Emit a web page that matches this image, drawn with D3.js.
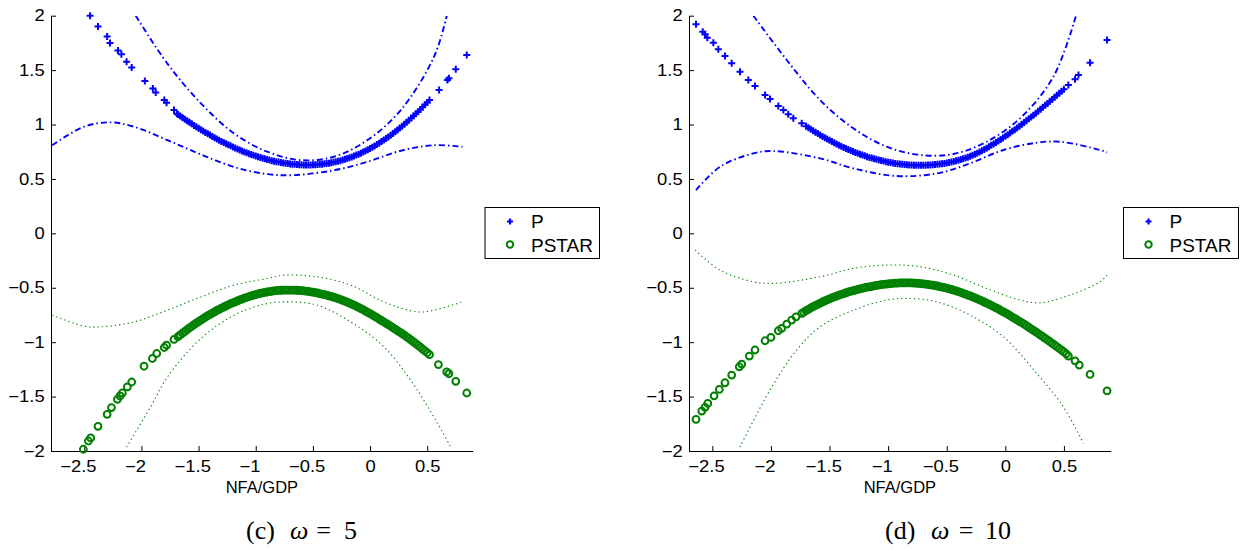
<!DOCTYPE html>
<html><head><meta charset="utf-8">
<script src="https://cdn.jsdelivr.net/npm/d3@7"></script>
<style>
body{margin:0;background:#fff;}
svg{display:block;}
</style></head>
<body><svg id="chart" width="1248" height="550"></svg>
<script>
// ---------- tick labels ----------
const xTicks = [-2.5, -2, -1.5, -1, -0.5, 0, 0.5];
const yTicks = [-2, -1.5, -1, -0.5, 0, 0.5, 1, 1.5, 2];
const xLabel = "NFA/GDP";
const legendNames = ["P", "PSTAR"];

// ---------- panel (c) omega = 5 ----------
const cP = [[-2.449,2.0],[-2.38,1.90],[-2.30,1.81],[-2.275,1.75],[-2.205,1.68],[-2.175,1.645],[-2.13,1.577],[-2.085,1.525],[-1.97,1.40],[-1.90,1.33],[-1.875,1.295],[-1.80,1.225],[-1.78,1.20],[-1.715,1.133],[-1.69,1.10],
[-1.68,1.093],[-1.66,1.078],[-1.64,1.063],[-1.62,1.048],[-1.60,1.034],[-1.58,1.020],[-1.56,1.006],[-1.54,0.992],[-1.52,0.979],[-1.50,0.966],[-1.48,0.953],[-1.46,0.940],[-1.44,0.927],[-1.42,0.915],[-1.40,0.903],[-1.38,0.891],[-1.36,0.879],[-1.34,0.867],[-1.32,0.856],[-1.30,0.845],[-1.28,0.834],[-1.26,0.824],[-1.24,0.814],[-1.22,0.804],[-1.20,0.794],[-1.18,0.784],[-1.16,0.775],[-1.14,0.766],[-1.12,0.757],[-1.10,0.748],[-1.08,0.740],[-1.06,0.732],[-1.04,0.725],[-1.02,0.717],[-1.00,0.710],[-0.98,0.703],[-0.96,0.697],[-0.94,0.691],[-0.92,0.685],[-0.90,0.679],[-0.88,0.673],[-0.86,0.668],[-0.84,0.663],[-0.82,0.659],[-0.80,0.655],[-0.78,0.651],[-0.76,0.647],[-0.74,0.644],[-0.72,0.641],[-0.70,0.638],[-0.68,0.636],[-0.66,0.634],[-0.64,0.632],[-0.62,0.631],[-0.60,0.630],[-0.58,0.629],[-0.56,0.629],[-0.54,0.629],[-0.52,0.629],[-0.50,0.630],[-0.48,0.631],[-0.46,0.632],[-0.44,0.634],[-0.42,0.636],[-0.40,0.639],[-0.38,0.642],[-0.36,0.645],[-0.34,0.649],[-0.32,0.653],[-0.30,0.658],[-0.28,0.663],[-0.26,0.668],[-0.24,0.674],[-0.22,0.680],[-0.20,0.687],[-0.18,0.694],[-0.16,0.702],[-0.14,0.710],[-0.12,0.719],[-0.10,0.728],[-0.08,0.737],[-0.06,0.747],[-0.04,0.757],[-0.02,0.768],[0.00,0.779],[0.02,0.791],[0.04,0.803],[0.06,0.816],[0.08,0.829],[0.10,0.843],[0.12,0.857],[0.14,0.871],[0.16,0.886],[0.18,0.901],[0.20,0.917],[0.22,0.933],[0.24,0.950],[0.26,0.967],[0.28,0.985],[0.30,1.003],[0.32,1.021],[0.34,1.040],[0.36,1.059],[0.38,1.078],[0.40,1.098],[0.42,1.118],[0.44,1.139],[0.46,1.160],[0.48,1.181],[0.50,1.203],[0.52,1.225],
[0.604,1.317],[0.677,1.41],[0.69,1.425],[0.75,1.507],[0.846,1.638]];
const cPSTAR = [[-2.508,-1.984],[-2.464,-1.908],[-2.444,-1.88],[-2.38,-1.773],[-2.30,-1.663],[-2.262,-1.601],[-2.21,-1.525],[-2.187,-1.494],[-2.167,-1.467],[-2.123,-1.411],[-2.085,-1.366],[-1.977,-1.221],[-1.904,-1.15],[-1.866,-1.104],[-1.80,-1.049],[-1.78,-1.028],[-1.715,-0.975],
[-1.68,-0.950],[-1.66,-0.933],[-1.64,-0.917],[-1.62,-0.901],[-1.60,-0.885],[-1.58,-0.869],[-1.56,-0.854],[-1.54,-0.839],[-1.52,-0.825],[-1.50,-0.811],[-1.48,-0.797],[-1.46,-0.783],[-1.44,-0.770],[-1.42,-0.757],[-1.40,-0.745],[-1.38,-0.733],[-1.36,-0.721],[-1.34,-0.709],[-1.32,-0.698],[-1.30,-0.687],[-1.28,-0.677],[-1.26,-0.667],[-1.24,-0.657],[-1.22,-0.647],[-1.20,-0.638],[-1.18,-0.629],[-1.16,-0.620],[-1.14,-0.612],[-1.12,-0.604],[-1.10,-0.596],[-1.08,-0.589],[-1.06,-0.582],[-1.04,-0.575],[-1.02,-0.569],[-1.00,-0.563],[-0.98,-0.557],[-0.96,-0.552],[-0.94,-0.547],[-0.92,-0.543],[-0.90,-0.539],[-0.88,-0.535],[-0.86,-0.532],[-0.84,-0.529],[-0.82,-0.526],[-0.80,-0.524],[-0.78,-0.523],[-0.76,-0.522],[-0.74,-0.521],[-0.72,-0.521],[-0.70,-0.521],[-0.68,-0.521],[-0.66,-0.522],[-0.64,-0.523],[-0.62,-0.524],[-0.60,-0.526],[-0.58,-0.528],[-0.56,-0.531],[-0.54,-0.534],[-0.52,-0.537],[-0.50,-0.540],[-0.48,-0.544],[-0.46,-0.548],[-0.44,-0.553],[-0.42,-0.558],[-0.40,-0.563],[-0.38,-0.568],[-0.36,-0.574],[-0.34,-0.580],[-0.32,-0.586],[-0.30,-0.593],[-0.28,-0.600],[-0.26,-0.607],[-0.24,-0.615],[-0.22,-0.623],[-0.20,-0.632],[-0.18,-0.641],[-0.16,-0.650],[-0.14,-0.660],[-0.12,-0.670],[-0.10,-0.680],[-0.08,-0.691],[-0.06,-0.702],[-0.04,-0.714],[-0.02,-0.726],[0.00,-0.738],[0.02,-0.750],[0.04,-0.763],[0.06,-0.775],[0.08,-0.788],[0.10,-0.801],[0.12,-0.814],[0.14,-0.827],[0.16,-0.840],[0.18,-0.853],[0.20,-0.867],[0.22,-0.880],[0.24,-0.894],[0.26,-0.908],[0.28,-0.922],[0.30,-0.936],[0.32,-0.951],[0.34,-0.966],[0.36,-0.981],[0.38,-0.997],[0.40,-1.013],[0.42,-1.029],[0.44,-1.046],[0.46,-1.063],[0.48,-1.080],[0.50,-1.097],[0.52,-1.115],
[0.598,-1.206],[0.671,-1.273],[0.69,-1.29],[0.75,-1.36],[0.846,-1.467]];
const cPUpper = [[-2.05,2.0],[-1.773,1.56],[-1.48,1.195],[-1.19,0.918],[-0.90,0.75],[-0.606,0.673],[-0.315,0.704],[-0.023,0.857],[0.269,1.133],[0.56,1.623],[0.671,2.0]];
const cPLower = [[-2.78,0.81],[-2.502,0.98],[-2.27,1.02],[-2.065,0.98],[-1.773,0.857],[-1.48,0.725],[-1.19,0.61],[-0.90,0.544],[-0.665,0.535],[-0.315,0.58],[-0.023,0.657],[0.269,0.759],[0.56,0.81],[0.808,0.795]];
const cSUpper = [[-2.78,-0.752],[-2.50,-0.853],[-2.357,-0.859],[-2.065,-0.814],[-1.773,-0.706],[-1.48,-0.584],[-1.19,-0.476],[-0.90,-0.415],[-0.752,-0.385],[-0.46,-0.40],[-0.169,-0.476],[0.122,-0.63],[0.415,-0.722],[0.56,-0.706],[0.808,-0.63]];
const cSLower = [[-2.13,-1.963],[-1.92,-1.595],[-1.773,-1.32],[-1.48,-0.967],[-1.19,-0.752],[-0.90,-0.645],[-0.69,-0.63],[-0.46,-0.66],[-0.169,-0.814],[0.122,-1.044],[0.415,-1.442],[0.706,-1.963]];

// ---------- panel (d) omega = 10 ----------
const dP = [[-2.639,1.921],[-2.582,1.853],[-2.562,1.829],[-2.543,1.798],[-2.491,1.752],[-2.449,1.691],[-2.392,1.63],[-2.335,1.562],[-2.264,1.485],[-2.193,1.409],[-2.136,1.354],[-2.05,1.271],[-2.008,1.234],[-1.937,1.17],[-1.894,1.133],[-1.852,1.094],[-1.809,1.057],[-1.737,1.011],
[-1.70,0.985],[-1.68,0.971],[-1.66,0.957],[-1.64,0.943],[-1.62,0.930],[-1.60,0.917],[-1.58,0.904],[-1.56,0.891],[-1.54,0.879],[-1.52,0.867],[-1.50,0.855],[-1.48,0.843],[-1.46,0.832],[-1.44,0.821],[-1.42,0.810],[-1.40,0.800],[-1.38,0.790],[-1.36,0.780],[-1.34,0.771],[-1.32,0.762],[-1.30,0.753],[-1.28,0.744],[-1.26,0.736],[-1.24,0.728],[-1.22,0.720],[-1.20,0.712],[-1.18,0.705],[-1.16,0.698],[-1.14,0.692],[-1.12,0.686],[-1.10,0.680],[-1.08,0.674],[-1.06,0.669],[-1.04,0.664],[-1.02,0.659],[-1.00,0.654],[-0.98,0.650],[-0.96,0.646],[-0.94,0.643],[-0.92,0.640],[-0.90,0.637],[-0.88,0.634],[-0.86,0.632],[-0.84,0.630],[-0.82,0.628],[-0.80,0.627],[-0.78,0.626],[-0.76,0.625],[-0.74,0.625],[-0.72,0.625],[-0.70,0.625],[-0.68,0.626],[-0.66,0.627],[-0.64,0.628],[-0.62,0.630],[-0.60,0.632],[-0.58,0.634],[-0.56,0.637],[-0.54,0.640],[-0.52,0.643],[-0.50,0.647],[-0.48,0.651],[-0.46,0.656],[-0.44,0.661],[-0.42,0.666],[-0.40,0.672],[-0.38,0.678],[-0.36,0.685],[-0.34,0.692],[-0.32,0.700],[-0.30,0.709],[-0.28,0.718],[-0.26,0.727],[-0.24,0.737],[-0.22,0.748],[-0.20,0.759],[-0.18,0.771],[-0.16,0.783],[-0.14,0.796],[-0.12,0.809],[-0.10,0.822],[-0.08,0.835],[-0.06,0.849],[-0.04,0.863],[-0.02,0.877],[0.00,0.892],[0.02,0.907],[0.04,0.922],[0.06,0.938],[0.08,0.953],[0.10,0.969],[0.12,0.985],[0.14,1.002],[0.16,1.018],[0.18,1.035],[0.20,1.052],[0.22,1.069],[0.24,1.086],[0.26,1.104],[0.28,1.122],[0.30,1.140],[0.32,1.158],[0.34,1.176],[0.36,1.194],[0.38,1.213],[0.40,1.231],[0.42,1.250],[0.44,1.268],[0.46,1.287],[0.48,1.306],[0.50,1.325],
[0.538,1.363],[0.595,1.415],[0.624,1.455],[0.723,1.568],[0.868,1.777]];
const dPSTAR = [[-2.639,-1.71],[-2.59,-1.633],[-2.562,-1.599],[-2.539,-1.563],[-2.485,-1.493],[-2.44,-1.434],[-2.392,-1.373],[-2.335,-1.302],[-2.27,-1.226],[-2.249,-1.201],[-2.184,-1.128],[-2.136,-1.072],[-2.05,-0.987],[-2.0,-0.956],[-1.937,-0.895],[-1.909,-0.874],[-1.865,-0.834],[-1.823,-0.797],[-1.786,-0.767],[-1.737,-0.735],
[-1.72,-0.724],[-1.70,-0.711],[-1.68,-0.698],[-1.66,-0.686],[-1.64,-0.674],[-1.62,-0.663],[-1.60,-0.652],[-1.58,-0.641],[-1.56,-0.631],[-1.54,-0.621],[-1.52,-0.611],[-1.50,-0.602],[-1.48,-0.593],[-1.46,-0.584],[-1.44,-0.576],[-1.42,-0.568],[-1.40,-0.560],[-1.38,-0.553],[-1.36,-0.546],[-1.34,-0.539],[-1.32,-0.533],[-1.30,-0.527],[-1.28,-0.521],[-1.26,-0.515],[-1.24,-0.510],[-1.22,-0.505],[-1.20,-0.500],[-1.18,-0.495],[-1.16,-0.491],[-1.14,-0.487],[-1.12,-0.483],[-1.10,-0.479],[-1.08,-0.476],[-1.06,-0.472],[-1.04,-0.469],[-1.02,-0.466],[-1.00,-0.464],[-0.98,-0.462],[-0.96,-0.460],[-0.94,-0.458],[-0.92,-0.457],[-0.90,-0.456],[-0.88,-0.455],[-0.86,-0.455],[-0.84,-0.455],[-0.82,-0.455],[-0.80,-0.456],[-0.78,-0.457],[-0.76,-0.458],[-0.74,-0.460],[-0.72,-0.462],[-0.70,-0.464],[-0.68,-0.467],[-0.66,-0.470],[-0.64,-0.473],[-0.62,-0.476],[-0.60,-0.480],[-0.58,-0.484],[-0.56,-0.489],[-0.54,-0.494],[-0.52,-0.499],[-0.50,-0.504],[-0.48,-0.510],[-0.46,-0.516],[-0.44,-0.522],[-0.42,-0.529],[-0.40,-0.536],[-0.38,-0.543],[-0.36,-0.551],[-0.34,-0.559],[-0.32,-0.567],[-0.30,-0.575],[-0.28,-0.584],[-0.26,-0.593],[-0.24,-0.602],[-0.22,-0.611],[-0.20,-0.621],[-0.18,-0.631],[-0.16,-0.641],[-0.14,-0.651],[-0.12,-0.662],[-0.10,-0.673],[-0.08,-0.684],[-0.06,-0.695],[-0.04,-0.707],[-0.02,-0.719],[0.00,-0.731],[0.02,-0.743],[0.04,-0.756],[0.06,-0.769],[0.08,-0.782],[0.10,-0.795],[0.12,-0.808],[0.14,-0.821],[0.16,-0.835],[0.18,-0.849],[0.20,-0.863],[0.22,-0.877],[0.24,-0.891],[0.26,-0.905],[0.28,-0.920],[0.30,-0.935],[0.32,-0.950],[0.34,-0.965],[0.36,-0.980],[0.38,-0.995],[0.40,-1.011],[0.42,-1.026],[0.44,-1.042],[0.46,-1.058],[0.48,-1.074],[0.50,-1.090],[0.52,-1.107],
[0.538,-1.128],[0.595,-1.171],[0.631,-1.21],[0.723,-1.296],[0.868,-1.448]];
const dPUpper = [[-2.15,2.0],[-1.865,1.593],[-1.581,1.225],[-1.297,0.965],[-1.012,0.796],[-0.728,0.72],[-0.444,0.729],[-0.159,0.842],[0.125,1.057],[0.41,1.439],[0.603,2.0]];
const dPLower = [[-2.639,0.398],[-2.434,0.612],[-2.15,0.735],[-1.979,0.756],[-1.581,0.689],[-1.297,0.597],[-0.927,0.527],[-0.585,0.551],[-0.301,0.643],[-0.017,0.766],[0.268,0.833],[0.467,0.842],[0.808,0.766],[0.868,0.745]];
const dSUpper = [[-2.647,-0.154],[-2.434,-0.337],[-2.15,-0.445],[-1.979,-0.46],[-1.581,-0.399],[-1.297,-0.322],[-1.012,-0.291],[-0.728,-0.307],[-0.444,-0.383],[-0.159,-0.506],[0.125,-0.613],[0.296,-0.638],[0.552,-0.567],[0.808,-0.445],[0.868,-0.385]];
const dSLower = [[-2.264,-1.963],[-2.008,-1.44],[-1.78,-1.072],[-1.581,-0.859],[-1.297,-0.706],[-1.012,-0.613],[-0.813,-0.598],[-0.585,-0.629],[-0.301,-0.751],[-0.017,-0.95],[0.268,-1.287],[0.495,-1.594],[0.666,-1.93]];

// ---------- layout ----------
const panels = [
  {id:"c", xDomain:[-2.791,0.898], left:51, right:472.7, P:cP, S:cPSTAR, PU:cPUpper, PL:cPLower, SU:cSUpper, SL:cSLower,
   legend:{x:485, y:207.5, w:114.5, h:51},
   caption:[{t:"(c)",x:246,it:false,a:"start"},{t:"ω",x:290,it:true,a:"start"},{t:"=",x:323.5,it:false,a:"middle"},{t:"5",x:344,it:false,a:"start"}]},
  {id:"d", xDomain:[-2.699,0.899], left:689, right:1110.7, P:dP, S:dPSTAR, PU:dPUpper, PL:dPLower, SU:dSUpper, SL:dSLower,
   legend:{x:1123.5, y:207.5, w:115, h:51},
   caption:[{t:"(d)",x:885,it:false,a:"start"},{t:"ω",x:931,it:true,a:"start"},{t:"=",x:966,it:false,a:"middle"},{t:"10",x:985,it:false,a:"start"}]}
];
const plotTop = 15.7, plotBottom = 451;
const blue = "#0000ff", green = "#008000";
const svg = d3.select("#chart");
const fmt = d3.format("~g");
const sans = "Liberation Sans, Arial, sans-serif";

function plusPath(s){ return `M${-s},0H${s}M0,${-s}V${s}`; }

panels.forEach(p => {
  const x = d3.scaleLinear().domain(p.xDomain).range([p.left, p.right]);
  const y = d3.scaleLinear().domain([-2, 2]).range([plotBottom, plotTop]);
  const g = svg.append("g");

  g.append("clipPath").attr("id","clip"+p.id).append("rect")
    .attr("x", p.left).attr("y", plotTop).attr("width", p.right - p.left).attr("height", plotBottom - plotTop);

  // axes
  const xa = g.append("g").attr("transform",`translate(0,${plotBottom})`)
    .call(d3.axisBottom(x).tickValues(xTicks).tickFormat(fmt).tickSizeInner(-5).tickSizeOuter(0).tickPadding(10));
  const ya = g.append("g").attr("transform",`translate(${p.left},0)`)
    .call(d3.axisLeft(y).tickValues(yTicks).tickFormat(fmt).tickSizeInner(-5).tickSizeOuter(0).tickPadding(5.5));
  [xa, ya].forEach(a => {
    a.selectAll("text").attr("font-size", 16).attr("fill","#000").attr("font-family", sans)
      .attr("transform","scale(1.15,1)");
    a.select(".domain").attr("stroke","#000");
    a.selectAll(".tick line").attr("stroke","#000");
  });
  // MATLAB-style: the digits are centred on the tick, the minus sign hangs to the left
  xa.selectAll(".tick text").filter(d => d < 0).attr("dx", -5.5);

  g.append("text").attr("x", (p.left + p.right)/2).attr("y", 492.5)
    .attr("text-anchor","middle").attr("font-size",16.5)
    .attr("font-family", sans).text(xLabel);

  // bands
  const line = d3.line().x(d => x(d[0])).y(d => y(d[1])).curve(d3.curveCatmullRom);
  const bands = g.append("g").attr("clip-path",`url(#clip${p.id})`);
  [p.PU, p.PL].forEach(b => bands.append("path").attr("d", line(b))
     .attr("fill","none").attr("stroke", blue).attr("stroke-width",1.9).attr("stroke-dasharray","6,3,1.5,3"));
  [p.SU, p.SL].forEach(b => bands.append("path").attr("d", line(b))
     .attr("fill","none").attr("stroke", green).attr("stroke-width",1.1).attr("stroke-dasharray","1.3,3"));

  // markers
  g.append("g").selectAll("path").data(p.P).join("path")
    .attr("d", plusPath(3.5)).attr("transform", d => `translate(${x(d[0])},${y(d[1])})`)
    .attr("stroke", blue).attr("stroke-width", 2).attr("fill","none");
  g.append("g").selectAll("circle").data(p.S).join("circle")
    .attr("cx", d => x(d[0])).attr("cy", d => y(d[1])).attr("r", 3.4)
    .attr("stroke", green).attr("stroke-width", 2).attr("fill","none");

  // legend
  const L = p.legend;
  const lg = g.append("g");
  lg.append("rect").attr("x", L.x).attr("y", L.y).attr("width", L.w).attr("height", L.h)
    .attr("fill","#fff").attr("stroke","#000").attr("stroke-width",1);
  lg.append("path").attr("d", plusPath(3)).attr("transform",`translate(${L.x+25},${L.y+14})`)
    .attr("stroke", blue).attr("stroke-width",2.2);
  lg.append("circle").attr("cx", L.x+25).attr("cy", L.y+37).attr("r",3.2)
    .attr("stroke", green).attr("stroke-width",2).attr("fill","none");
  legendNames.forEach((n,i) => lg.append("text").attr("x", L.x+46).attr("y", L.y+20.5+i*23.5)
    .attr("font-size",19).attr("font-family", sans).text(n));

  // caption
  p.caption.forEach(c => g.append("text").attr("x", c.x).attr("y", 539)
    .attr("font-size", 26).attr("text-anchor", c.a).attr("font-family","Liberation Serif, Times New Roman, serif")
    .attr("font-style", c.it ? "italic" : "normal").text(c.t));
});
</script></body></html>
